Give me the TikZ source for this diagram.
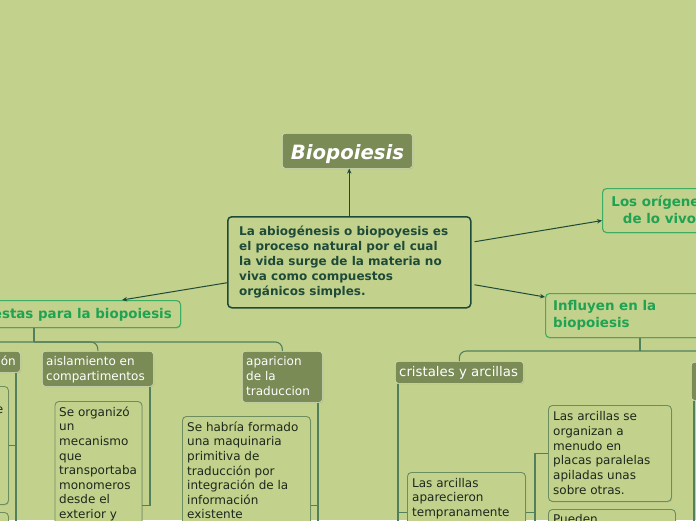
\documentclass[tikz,border=0pt]{standalone}
\usepackage{fontspec}
\setmainfont{DejaVu Sans}
\usetikzlibrary{arrows.meta,shadows,calc}
\definecolor{bg}{HTML}{C2D18C}
\definecolor{olive}{HTML}{7A8B56}
\definecolor{hdrb}{HTML}{D6E0BC}
\definecolor{dgreen}{HTML}{1E4B39}
\definecolor{tgreen}{HTML}{1FA352}
\definecolor{gbord}{HTML}{3BAE62}
\definecolor{tline}{HTML}{52805D}
\definecolor{tbord}{HTML}{6E8D5F}
\definecolor{txt}{HTML}{1C281C}
\begin{document}
\begin{tikzpicture}[x=1pt,y=-1pt,
  shd/.style={drop shadow={shadow xshift=0.7pt,shadow yshift=-0.9pt,opacity=0.3}},
  hdr/.style={draw=hdrb, fill=olive, line width=0.6pt, rounded corners=3pt, inner sep=0pt, anchor=north west, shd},
  tbox/.style={draw=tbord, fill=bg, line width=0.9pt, rounded corners=4pt, inner sep=0pt, anchor=north west, shd},
  gbox/.style={draw=gbord, fill=bg, line width=1.1pt, rounded corners=4pt, inner sep=0pt, anchor=north west, shd},
  ht/.style={text=white, font=\fontsize{12}{15}\selectfont, align=left, inner sep=0pt, anchor=north west},
  bt/.style={text=txt, font=\fontsize{12}{14.6}\selectfont, align=left, inner sep=0pt, anchor=north west},
  gt/.style={text=tgreen, font=\bfseries\fontsize{13.4}{17}\selectfont, inner sep=0pt},
  tree/.style={draw=tline, line width=1.1pt},
  arr/.style={draw=dgreen, line width=1pt, -{Stealth[length=5pt,width=4.5pt]}}]
\useasboundingbox (0,0) rectangle (696,520);
\fill[bg] (0,0) rectangle (696,520);
\clip (0,0) rectangle (696,520);
\coordinate (bot) at (0,560);

% title
\node[hdr, minimum width=130, minimum height=35] (bio) at (282,133) {};
\node[text=white, font=\bfseries\itshape\fontsize{19.7}{23}\selectfont, anchor=base, inner sep=0pt] (biot) at (347.5,159) {Biopoiesis};

% central
\node[draw=dgreen, line width=1.5pt, rounded corners=4pt, fill=bg, minimum width=243, minimum height=91, anchor=north west, inner sep=0pt] (cen) at (227,216) {};
\node[text=dgreen, font=\bfseries\fontsize{12}{15}\selectfont, align=left, inner sep=0pt, anchor=north west] (cent) at (239,224.5) {\strut La abiogénesis o biopoyesis es\\el proceso natural por el cual\\la vida surge de la materia no\\viva como compuestos\\orgánicos simples.};

% green nodes
\node[gbox, minimum width=115, minimum height=44] (orig) at (602,188) {};
\node[gt, align=center, anchor=north] (origt) at (659.5,194.1) {\strut Los orígenes\\de lo vivo};
\node[gbox, minimum width=175, minimum height=44] (infl) at (545,293) {};
\node[gt, align=left, anchor=north west] (inflt) at (553,298.1) {\strut Influyen en la\\biopoiesis};
\node[gbox, minimum width=230, minimum height=27] (prop) at (-50,300) {};
\node[gt, anchor=base east] (propt) at (172,318) {Propuestas para la biopoiesis};

% headers
\node[hdr, minimum width=80, minimum height=21] (onn) at (-60,351) {};
\node[text=white, font=\fontsize{12}{15}\selectfont, anchor=base east, inner sep=0pt] (ont) at (16,365) {ón};
\node[hdr, minimum width=111, minimum height=35] (aisl) at (42,351) {};
\node[ht] (aislt) at (46,354.5) {\strut aislamiento en\\compartimentos};
\node[hdr, minimum width=80, minimum height=51] (apar) at (242,351) {};
\node[ht] (apart) at (246,354.5) {\strut aparicion\\de la\\traduccion};
\node[hdr, minimum width=128, minimum height=22] (cris) at (395,361) {};
\node[text=white, font=\fontsize{13.3}{16}\selectfont, anchor=base west, inner sep=0pt] (crist) at (399,376) {cristales y arcillas};
\node[hdr, minimum width=100, minimum height=38] (rgt) at (691,362) {};

% text boxes
\node[tbox, minimum width=100, minimum height=118] (L1) at (-92,386) {};
\node[text=txt, font=\fontsize{12}{14.6}\selectfont, anchor=base east, inner sep=0pt] (L1t) at (3.5,413) {e};
\node[tbox, minimum width=100, minimum height=60] (L2) at (-92,512) {};
\node[tbox, minimum width=87, minimum height=208] (b1) at (54.5,401) {};
\node[bt] (b1t) at (59,405.8) {\strut Se organizó\\un\\mecanismo\\que\\transportaba\\monomeros\\desde el\\exterior y};
\node[tbox, minimum width=128, minimum height=178] (b2) at (182,416) {};
\node[bt] (b2t) at (187,420.8) {\strut Se habría formado\\una maquinaria\\primitiva de\\traducción por\\integración de la\\información\\existente};
\node[tbox, minimum width=118, minimum height=80] (b3) at (407,472) {};
\node[bt] (b3t) at (412,476.8) {\strut Las arcillas\\aparecieron\\tempranamente};
\node[tbox, minimum width=123, minimum height=96] (b4) at (548,405) {};
\node[bt, font=\fontsize{12}{14.9}\selectfont] (b4t) at (553,409.6) {\strut Las arcillas se\\organizan a\\menudo en\\placas paralelas\\apiladas unas\\sobre otras.};
\node[tbox, minimum width=127, minimum height=60] (b5) at (548,509) {};
\node[bt] (b5t) at (553,512.8) {\strut Pueden};

% arrows from central node
\draw[arr] (cen.north) -- (cen.north |- bio.south);
\draw[arr] ($(cen.east)+(3,-20.5)$) -- ($(orig.west)+(0,10)$);
\draw[arr] ($(cen.east)+(3,22.5)$) -- ($(infl.north west)+(0,4)$);
\draw[arr] ($(cen.west)+(0,20.5)$) -- ($(prop.north east)+(-59,0)$);

% left tree
\coordinate (pj) at (34,342);
\draw[tree] (pj |- prop.south) -- (pj);
\draw[tree, rounded corners=7pt] (onn.north) |- (pj);
\draw[tree, rounded corners=7pt] (aisl.north) |- (pj);
\draw[tree, rounded corners=7pt] (apar.north) |- (pj);
\coordinate (o1) at (16,0);
\draw[tree] (o1 |- onn.south) -- (o1 |- bot);
\draw[tree] (L1.east) -- (o1 |- L1.east);
\coordinate (a1) at (150,0);
\draw[tree] (a1 |- aisl.south) -- (a1 |- b1.east) -- (b1.east);
\coordinate (a2) at (318,0);
\draw[tree] (a2 |- apar.south) -- (a2 |- bot);
\draw[tree] (b2.east) -- (a2 |- b2.east);

% right tree
\coordinate (ij) at (640,351);
\draw[tree] (ij |- infl.south) -- (ij);
\draw[tree, rounded corners=7pt] (cris.north) |- (ij);
\draw[tree, rounded corners=7pt] (rgt.north) |- (ij);
\coordinate (c1) at (398,0);
\draw[tree] (c1 |- cris.south) -- (c1 |- bot);
\draw[tree] (c1 |- b3.west) -- (b3.west);
\coordinate (c2) at (535,0);
\draw[tree] (b3.east) -- (c2 |- b3.east);
\draw[tree] (b4.west) -- (c2 |- b4.west) -- (c2 |- bot);
\draw[tree] (b5.west) -- (c2 |- b5.west);
\coordinate (r1) at (694,0);
\draw[tree] (r1 |- rgt.south) -- (r1 |- bot);
\end{tikzpicture}
\end{document}
